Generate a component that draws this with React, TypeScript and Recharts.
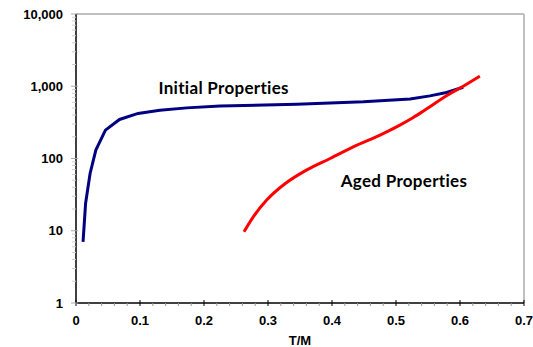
import React from 'react';
import { LineChart, Line, XAxis, YAxis, ReferenceLine, ReferenceDot, Label } from 'recharts';

// Initial Properties series (T/M vs value)
const initialT = [0.011, 0.015, 0.022, 0.031, 0.046, 0.068, 0.097, 0.131, 0.173, 0.225, 0.345, 0.449, 0.522, 0.553, 0.579, 0.605];
const initialV = [7, 24, 62, 131, 247, 347, 421, 467, 502, 531, 565, 610, 668, 736, 821, 970];

// Aged Properties series
const agedT = [0.2625, 0.277, 0.298, 0.327, 0.36, 0.397, 0.439, 0.475, 0.506, 0.527, 0.543, 0.579, 0.605, 0.631];
const agedV = [9.7, 15.6, 26.6, 45, 69, 100, 153, 211, 290, 370, 455, 740, 1000, 1380];

// Axis ticks
const xMajorTicks = [0, 0.1, 0.2, 0.3, 0.4, 0.5, 0.6, 0.7];
const xMinorStep = 0.02;
const yMajorTicks = [1, 10, 100, 1000, 10000];
const yMinorMultipliers = [2, 3, 4, 5, 6, 7, 8, 9];

// Annotations
const annotationText = ['Initial Properties', 'Aged Properties'];
const annotationT = [0.2308, 0.5125];
const annotationV = [955, 49.5];

const initialData = initialT.map((t, i) => ({ t, v: initialV[i] }));
const agedData = agedT.map((t, i) => ({ t, v: agedV[i] }));

const xMinorTicks: number[] = [];
for (let i = 0; i <= 35; i++) {
  const v = Math.round(i * xMinorStep * 1000) / 1000;
  if (!xMajorTicks.some((m) => Math.abs(m - v) < 1e-9)) xMinorTicks.push(v);
}
const xAllTicks = [...xMajorTicks, ...xMinorTicks].sort((a, b) => a - b);

const yMinorTicks: number[] = [];
yMajorTicks.slice(0, -1).forEach((m) => yMinorMultipliers.forEach((k) => yMinorTicks.push(m * k)));
const yAllTicks = [...yMajorTicks, ...yMinorTicks].sort((a, b) => a - b);

const axisFont = '"Liberation Sans", Arial, sans-serif';
const labelFont = 'Lato, "Open Sans", sans-serif';

const isMajorX = (v: number) => xMajorTicks.some((m) => Math.abs(m - v) < 1e-9);
const isMajorY = (v: number) => yMajorTicks.includes(v);

const XTick = (props: any) => {
  const { x, y, payload } = props;
  const v = payload.value;
  if (isMajorX(v)) {
    return (
      <g>
        <line x1={x} x2={x} y1={y - 3} y2={y + 3} stroke="#000" strokeWidth={1} />
        <text x={x} y={y + 22} textAnchor="middle" fontFamily={axisFont} fontWeight="bold" fontSize={13} fill="#000">
          {String(v)}
        </text>
      </g>
    );
  }
  return <line x1={x} x2={x} y1={y} y2={y + 3} stroke="#999" strokeWidth={1} />;
};

const YTick = (props: any) => {
  const { x, y, payload } = props;
  const v = payload.value;
  if (isMajorY(v)) {
    return (
      <g>
        <line x1={x - 5} x2={x + 2} y1={y} y2={y} stroke="#aaa" strokeWidth={1} />
        <text x={x - 13} y={y + 4.5} textAnchor="end" fontFamily={axisFont} fontWeight="bold" fontSize={13} fill="#000">
          {v.toLocaleString('en-US')}
        </text>
      </g>
    );
  }
  return <line x1={x - 4} x2={x} y1={y} y2={y} stroke="#ccc" strokeWidth={1} />;
};

const AnnotationShape = (text: string) => (props: any) => (
  <text x={props.cx} y={props.cy} textAnchor="middle" dominantBaseline="central" fontFamily={labelFont} fontWeight="bold" fontSize={17} letterSpacing={0.3} fill="#000">
    {text}
  </text>
);

export default function App() {
  return (
    <div style={{ position: 'absolute', left: 0, top: 0, width: 533, height: 347, background: '#fff' }}>
      <LineChart width={533} height={347} margin={{ top: 14, right: 9, bottom: 0, left: 0 }}>
        <XAxis
          type="number"
          dataKey="t"
          domain={[0, 0.7]}
          ticks={xAllTicks}
          interval={0}
          tickSize={0}
          tickMargin={0}
          tick={<XTick />}
          tickLine={false}
          axisLine={{ stroke: '#000', strokeWidth: 1.5 }}
          height={44}
          allowDataOverflow
        >
          <Label value="T/M" position="insideBottom" offset={2} style={{ fontFamily: axisFont, fontWeight: 'bold', fontSize: 13, fill: '#000' }} />
        </XAxis>
        <YAxis
          type="number"
          dataKey="v"
          scale="log"
          domain={[1, 10000]}
          ticks={yAllTicks}
          interval={0}
          tickSize={0}
          tickMargin={0}
          tick={<YTick />}
          tickLine={false}
          axisLine={{ stroke: '#000', strokeWidth: 1.5 }}
          width={76}
          allowDataOverflow
        />
        <ReferenceLine y={10000} stroke="#c0c0c0" strokeWidth={2} />
        <ReferenceLine x={0.7} stroke="#c0c0c0" strokeWidth={2} />
        <Line data={initialData} dataKey="v" type="linear" stroke="#000080" strokeWidth={3} dot={false} isAnimationActive={false} />
        <Line data={agedData} dataKey="v" type="monotone" stroke="#ff0000" strokeWidth={3} dot={false} isAnimationActive={false} />
        {annotationText.map((txt, i) => (
          <ReferenceDot key={txt} x={annotationT[i]} y={annotationV[i]} r={0} shape={AnnotationShape(txt)} />
        ))}
      </LineChart>
    </div>
  );
}
